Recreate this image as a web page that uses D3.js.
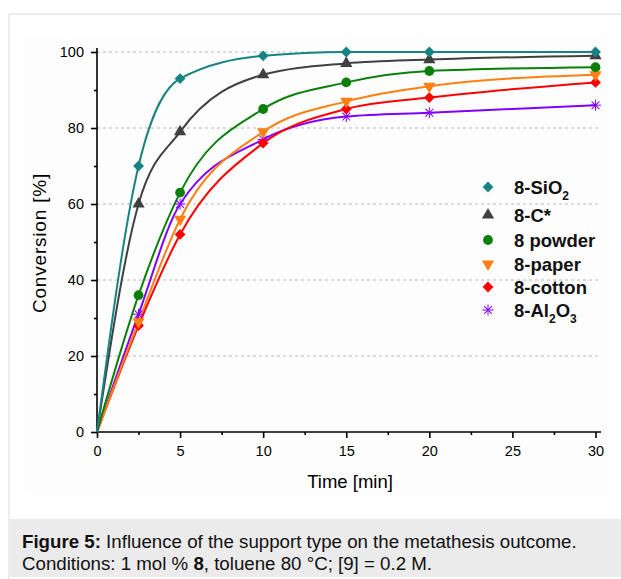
<!DOCTYPE html>
<html>
<head>
<meta charset="utf-8">
<script src="https://cdn.jsdelivr.net/npm/d3@7"></script>
<style>
  body { margin: 0; background: #fff; }
  svg { display: block; font-family: "Liberation Sans", Arial, sans-serif; }
</style>
</head>
<body>
<div id="chart"></div>
<script>
// data
let times = [0, 2.5, 5, 10, 15, 20, 30];
let sio2 = [0, 70, 93, 99, 100, 100, 100];
let carbon = [0, 60, 79, 94, 97, 98, 99];
let powder = [0, 36, 63, 85, 92, 95, 96];
let paper = [0, 29, 56, 79, 87, 91, 94];
let cotton = [0, 28, 52, 76, 85, 88, 92];
let alumina = [0, 31, 60, 77, 83, 84, 86];

let seriesNames = ['8-SiO2', '8-C*', '8 powder', '8-paper', '8-cotton', '8-Al2O3'];
let xTicks = [0, 5, 10, 15, 20, 25, 30];
let yTicks = [0, 20, 40, 60, 80, 100];

(function () {
  let width = 621,
    height = 579;

  let svg = d3.select('#chart').append('svg')
    .attr('width', width)
    .attr('height', height);

  // frame + caption box
  svg.append('rect')
    .attr('x', 9).attr('y', 14)
    .attr('width', width).attr('height', height)
    .attr('fill', '#fff')
    .attr('stroke', '#e8e8e8')
    .attr('stroke-width', 1.5);

  svg.append('rect')
    .attr('x', 25).attr('y', 37)
    .attr('width', 583).attr('height', 457)
    .attr('fill', '#fdfdfd');

  svg.append('rect')
    .attr('x', 10).attr('y', 519)
    .attr('width', width).attr('height', 58)
    .attr('fill', '#ebebeb');

  let caption = svg.append('text')
    .attr('x', 22).attr('y', 548)
    .attr('font-size', '18.7px')
    .attr('fill', '#111');
  caption.append('tspan').attr('font-weight', 'bold').text('Figure 5:');
  caption.append('tspan').text(' Influence of the support type on the metathesis outcome.');

  let caption2 = svg.append('text')
    .attr('x', 22).attr('y', 570)
    .attr('font-size', '18.7px')
    .attr('fill', '#111');
  caption2.append('tspan').text('Conditions: 1 mol % ');
  caption2.append('tspan').attr('font-weight', 'bold').text('8');
  caption2.append('tspan').text(', toluene 80 °C; [9] = 0.2 M.');

  let x = d3.scaleLinear().domain([0, 30]).range([97, 595.5]);
  let y = d3.scaleLinear().domain([0, 100]).range([432, 52]);

  // dashed grid
  svg.append('g').selectAll('line.grid')
    .data(yTicks.filter((d) => d > 0)).enter()
    .append('line')
    .attr('class', 'grid')
    .attr('x1', x(0)).attr('x2', 600)
    .attr('y1', (d) => y(d)).attr('y2', (d) => y(d))
    .attr('stroke', '#b8b8b8')
    .attr('stroke-width', 1)
    .attr('stroke-dasharray', '3,3');

  // axes
  let xAxis = svg.append('g')
    .attr('transform', 'translate(0,' + y(0) + ')')
    .call(d3.axisBottom(x).tickValues(xTicks).tickSize(6).tickPadding(8).tickSizeOuter(0));
  svg.append('g')
    .attr('transform', 'translate(0,' + y(0) + ')')
    .call(d3.axisBottom(x).tickValues(d3.range(2.5, 30, 5)).tickSize(3).tickFormat('').tickSizeOuter(0))
    .select('.domain').remove();
  xAxis.select('.domain').attr('d', 'M' + x(0) + ',0H601');

  let yAxis = svg.append('g')
    .attr('transform', 'translate(' + x(0) + ',0)')
    .call(d3.axisLeft(y).tickValues(yTicks).tickSize(6).tickPadding(7).tickSizeOuter(0));
  svg.append('g')
    .attr('transform', 'translate(' + x(0) + ',0)')
    .call(d3.axisLeft(y).tickValues(d3.range(10, 100, 20)).tickSize(3).tickFormat('').tickSizeOuter(0))
    .select('.domain').remove();
  yAxis.select('.domain').attr('d', 'M0,' + y(0) + 'V48');

  svg.selectAll('.tick line, .domain').attr('stroke', '#000').attr('stroke-width', 1.6);
  svg.selectAll('.tick text').attr('font-size', '14.5px').attr('fill', '#000')
    .attr('font-family', '"Liberation Sans", Arial, sans-serif');

  svg.append('text')
    .attr('x', 350).attr('y', 488)
    .attr('text-anchor', 'middle')
    .attr('font-size', '18.5px')
    .text('Time [min]');

  svg.append('text')
    .attr('transform', 'translate(46,243) rotate(-90)')
    .attr('text-anchor', 'middle')
    .attr('font-size', '19px')
    .attr('letter-spacing', '0.8px')
    .text('Conversion [%]');

  let series = [
    { name: seriesNames[0], values: sio2, color: '#178383', symbol: d3.symbolDiamond2, size: 75 },
    { name: seriesNames[1], values: carbon, color: '#404040', symbol: d3.symbolTriangle, size: 65 },
    { name: seriesNames[2], values: powder, color: '#0a800a', symbol: d3.symbolCircle, size: 75 },
    { name: seriesNames[3], values: paper, color: '#ff8010', symbol: d3.symbolTriangle, size: 65, flip: true },
    { name: seriesNames[4], values: cotton, color: '#ff0000', symbol: d3.symbolDiamond2, size: 75 },
    { name: seriesNames[5], values: alumina, color: '#8000ff', symbol: null, size: 0 }
  ];

  let line = d3.line()
    .x((d) => x(d[0]))
    .y((d) => y(d[1]))
    .curve(d3.curveMonotoneX);

  // draw bottom-most series first so SiO2 ends on top
  let drawOrder = series.slice().reverse();

  svg.append('g').selectAll('path.curve')
    .data(drawOrder).enter()
    .append('path')
    .attr('class', 'curve')
    .attr('d', (s) => line(times.map((t, i) => [t, s.values[i]])))
    .attr('fill', 'none')
    .attr('stroke', (s) => s.color)
    .attr('stroke-width', 2);

  function drawMarker(g, s, cx, cy) {
    if (s.symbol) {
      g.append('path')
        .attr('d', d3.symbol().type(s.symbol).size(s.size))
        .attr('transform', 'translate(' + cx + ',' + cy + ')' + (s.flip ? ' rotate(180)' : ''))
        .attr('fill', s.color);
    } else {
      // asterisk
      let r = 5.5;
      let star = g.append('g').attr('transform', 'translate(' + cx + ',' + cy + ')');
      [0, 45, 90, 135].forEach((a) => {
        star.append('line')
          .attr('x1', -r).attr('x2', r)
          .attr('y1', 0).attr('y2', 0)
          .attr('transform', 'rotate(' + a + ')')
          .attr('stroke', s.color)
          .attr('stroke-width', 1);
      });
    }
  }

  let markers = svg.append('g');
  drawOrder.forEach((s) => {
    times.forEach((t, i) => {
      if (t === 0) return;
      drawMarker(markers, s, x(t), y(s.values[i]));
    });
  });

  // legend
  let legendY = [187, 215, 240, 264, 287, 310];
  let legend = svg.append('g');
  series.forEach((s, i) => {
    drawMarker(legend, s, 488, legendY[i]);
    let t = legend.append('text')
      .attr('x', 514).attr('y', legendY[i] + 6.5)
      .attr('font-size', '18.5px')
      .attr('font-weight', 'bold')
      .attr('fill', '#111');
    if (i === 0) {
      t.append('tspan').text('8-SiO');
      t.append('tspan').attr('font-size', '12px').attr('dy', 6).text('2');
    } else if (i === 5) {
      t.append('tspan').text('8-Al');
      t.append('tspan').attr('font-size', '12px').attr('dy', 6).text('2');
      t.append('tspan').attr('dy', -6).text('O');
      t.append('tspan').attr('font-size', '12px').attr('dy', 6).text('3');
    } else {
      t.text(s.name);
    }
  });
})();
</script>
</body>
</html>
